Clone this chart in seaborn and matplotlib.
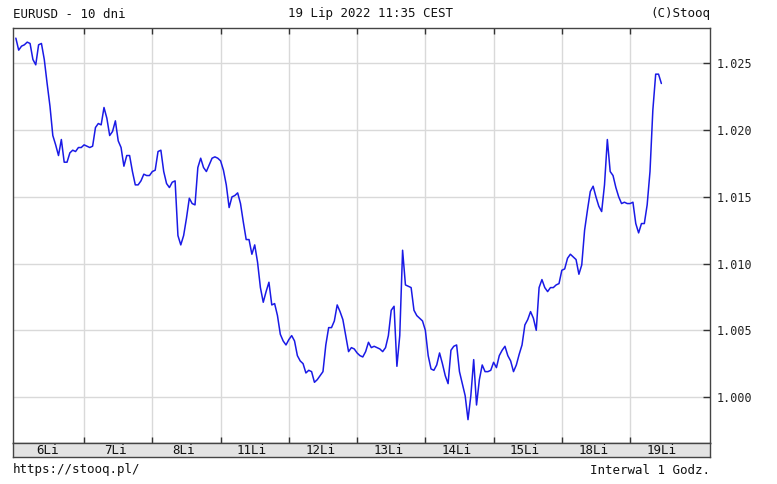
import numpy as np
import pandas as pd
import matplotlib
matplotlib.use("Agg")
import matplotlib.pyplot as plt
import seaborn as sns

# EURUSD, kursy godzinowe z wykresu (6Li 00:00 -> 19Li 11:00)
day_labels = ["6Li", "7Li", "8Li", "11Li", "12Li", "13Li", "14Li", "15Li", "18Li", "19Li"]
y_ticks = [1.000, 1.005, 1.010, 1.015, 1.020, 1.025]

eurusd = [
    # 6Li
    1.0269, 1.0260, 1.0263, 1.0264, 1.0266, 1.0265, 1.0253, 1.0249, 1.0264, 1.0265, 1.0253, 1.0235,
    1.0218, 1.0196, 1.0189, 1.0181, 1.0193, 1.0176, 1.0176, 1.0183, 1.0185, 1.0184, 1.0187, 1.0187,
    # 7Li
    1.0189, 1.0188, 1.0187, 1.0188, 1.0202, 1.0205, 1.0204, 1.0217, 1.0209, 1.0196, 1.0199, 1.0207,
    1.0192, 1.0187, 1.0173, 1.0181, 1.0181, 1.0169, 1.0159, 1.0159, 1.0162, 1.0167, 1.0166, 1.0166,
    # 8Li
    1.0169, 1.0170, 1.0184, 1.0185, 1.0169, 1.0160, 1.0157, 1.0161, 1.0162, 1.0121, 1.0114, 1.0121,
    1.0134, 1.0149, 1.0145, 1.0144, 1.0172, 1.0179, 1.0172, 1.0169, 1.0174, 1.0179, 1.0180, 1.0179,
    # 11Li
    1.0177, 1.0170, 1.0159, 1.0142, 1.0150, 1.0151, 1.0153, 1.0145, 1.0131, 1.0118, 1.0118, 1.0107,
    1.0114, 1.0101, 1.0082, 1.0071, 1.0079, 1.0086, 1.0069, 1.0070, 1.0061, 1.0047, 1.0042, 1.0039,
    # 12Li
    1.0043, 1.0046, 1.0042, 1.0031, 1.0027, 1.0025, 1.0018, 1.0020, 1.0019, 1.0011, 1.0013, 1.0016,
    1.0019, 1.0039, 1.0052, 1.0052, 1.0057, 1.0069, 1.0064, 1.0058, 1.0046, 1.0034, 1.0037, 1.0036,
    # 13Li
    1.0033, 1.0031, 1.0030, 1.0034, 1.0041, 1.0037, 1.0038, 1.0037, 1.0036, 1.0034, 1.0037, 1.0046,
    1.0065, 1.0068, 1.0023, 1.0046, 1.0110, 1.0084, 1.0083, 1.0082, 1.0065, 1.0061, 1.0059, 1.0057,
    # 14Li
    1.0050, 1.0031, 1.0021, 1.0020, 1.0024, 1.0033, 1.0025, 1.0016, 1.0010, 1.0035, 1.0038, 1.0039,
    1.0019, 1.0010, 1.0001, 0.9983, 1.0001, 1.0028, 0.9994, 1.0013, 1.0024, 1.0019, 1.0019, 1.0020,
    # 15Li
    1.0026, 1.0022, 1.0031, 1.0035, 1.0038, 1.0031, 1.0027, 1.0019, 1.0024, 1.0032, 1.0039, 1.0054,
    1.0058, 1.0064, 1.0059, 1.0050, 1.0082, 1.0088, 1.0082, 1.0079, 1.0082, 1.0082, 1.0084, 1.0085,
    # 18Li
    1.0095, 1.0096, 1.0104, 1.0107, 1.0105, 1.0103, 1.0092, 1.0099, 1.0125, 1.0140, 1.0154, 1.0158,
    1.0150, 1.0143, 1.0139, 1.0159, 1.0193, 1.0169, 1.0166, 1.0157, 1.0150, 1.0145, 1.0146, 1.0145,
    # 19Li
    1.0145, 1.0146, 1.0130, 1.0123, 1.0130, 1.0130, 1.0144, 1.0169, 1.0215, 1.0242, 1.0242, 1.0235,
]

df = pd.DataFrame({"godz": np.arange(len(eurusd)), "kurs": eurusd})

sns.set_style("white")
plt.rcParams["font.family"] = ["DejaVu Sans Mono", "DejaVu Sans"]

W, H = 777, 484
fig = plt.figure(figsize=(W / 100, H / 100), dpi=100)
fig.patch.set_facecolor("white")

# glowny wykres: ramka od x=13 do 710, y=28 do 443
ax = fig.add_axes([13 / W, 1 - 443 / H, 697 / W, 415 / H])
sns.lineplot(data=df, x="godz", y="kurs", ax=ax, color="#1a1ae6", linewidth=1.1)

ax.set_xlim(-1, 244.1)
ax.set_ylim(0.99655, 1.02766)
ax.set_xlabel("")
ax.set_ylabel("")

bounds = [24 * k for k in range(1, 10)]
ax.set_xticks(bounds)
ax.set_xticklabels([])
ax.tick_params(axis="x", direction="in", length=4, top=True, bottom=True,
               color="#333333", width=1)

ax.set_yticks(y_ticks)
ax.set_yticklabels([f"{v:.3f}" for v in y_ticks], fontsize=8.5, color="#222222")
ax.yaxis.tick_right()
ax.tick_params(axis="y", direction="in", length=5, right=True, left=False,
               color="#333333", width=1, pad=5)

ax.grid(True, color="#d9d9d9", linewidth=1.0)
ax.set_axisbelow(True)
for s in ax.spines.values():
    s.set_color("#444444")
    s.set_linewidth(1.0)

# szary pasek z dniami
band = fig.add_axes([13 / W, 1 - 457 / H, 697 / W, 14 / H])
band.set_facecolor("#e3e3e3")
band.set_xlim(-1, 244.1)
band.set_ylim(0, 1)
band.set_xticks([])
band.set_yticks([])
for s in band.spines.values():
    s.set_color("#444444")
    s.set_linewidth(1.0)
for k, lab in enumerate(day_labels):
    band.text(24 * k + 11, 0.45, lab, ha="center", va="center", fontsize=9, color="#111111")

# napisy
fig.text(13 / W, 1 - 14 / H, "EURUSD - 10 dni", ha="left", va="center", fontsize=9, color="#111111")
fig.text(370 / W, 1 - 14 / H, "19 Lip 2022 11:35 CEST", ha="center", va="center", fontsize=9, color="#111111")
fig.text(710 / W, 1 - 14 / H, "(C)Stooq", ha="right", va="center", fontsize=9, color="#111111")
fig.text(13 / W, 1 - 470 / H, "https://stooq.pl/", ha="left", va="center", fontsize=9, color="#111111")
fig.text(710 / W, 1 - 470 / H, "Interwal 1 Godz.", ha="right", va="center", fontsize=9, color="#111111")

fig.savefig("out.png", dpi=100)
